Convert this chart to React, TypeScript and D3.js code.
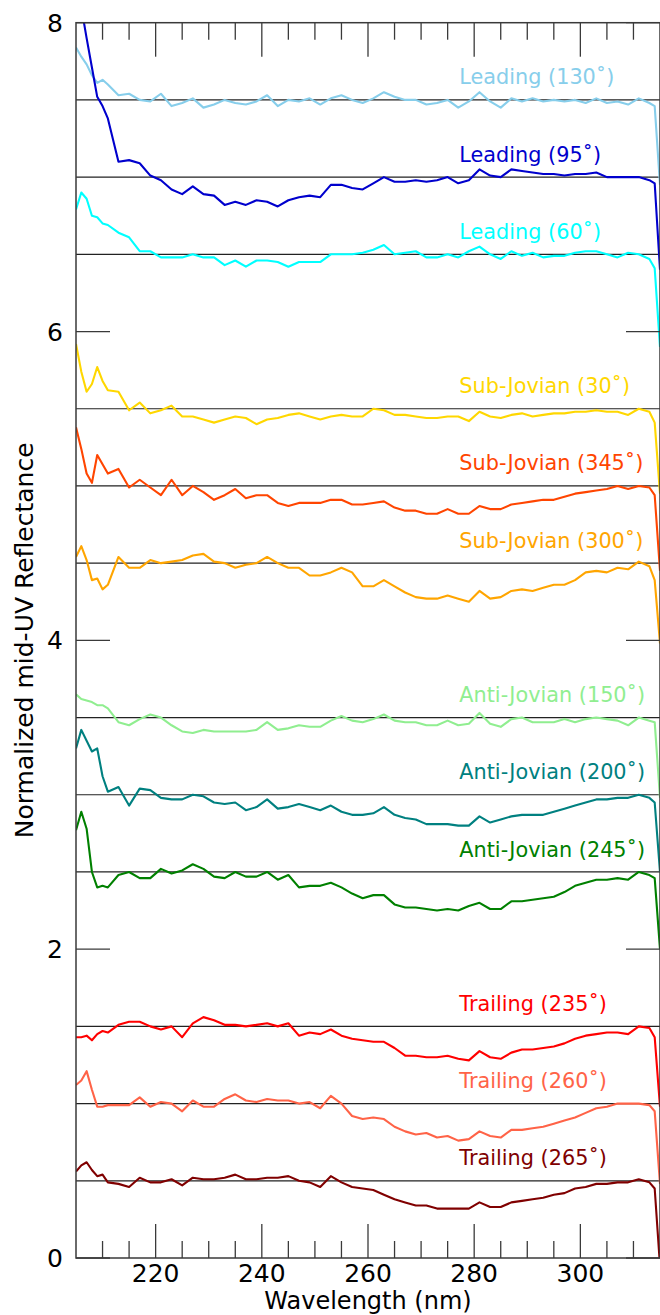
import React from 'react';
import * as d3 from 'd3';

// wavelength grid (nm) the spectra were read on
const wavelengths = [
  205, 206, 207, 208, 209, 210, 211,
  213, 215, 217, 219, 221, 223, 225, 227, 229, 231,
  233, 235, 237, 239, 241, 243, 245, 247, 249, 251,
  253, 255, 257, 259, 261, 263, 265, 267, 269, 271,
  273, 275, 277, 279, 281, 283, 285, 287, 289, 291,
  293, 295, 297, 299, 301, 303, 305, 307, 309, 311,
  313, 314, 315,
];

const leading130 = [
  7.84, 7.78, 7.73, 7.66, 7.61, 7.63, 7.60,
  7.53, 7.54, 7.50, 7.49, 7.54, 7.46, 7.48, 7.51, 7.45, 7.47,
  7.50, 7.48, 7.47, 7.49, 7.53, 7.46, 7.50, 7.49, 7.51, 7.47,
  7.51, 7.53, 7.50, 7.48, 7.51, 7.55, 7.52, 7.50, 7.50, 7.47,
  7.48, 7.50, 7.45, 7.49, 7.55, 7.49, 7.45, 7.51, 7.49, 7.51,
  7.49, 7.50, 7.49, 7.50, 7.48, 7.51, 7.48, 7.49, 7.47, 7.51,
  7.48, 7.46, 6.95,
];
const leading95 = [
  8.30, 8.10, 7.90, 7.71, 7.52, 7.46, 7.38,
  7.10, 7.11, 7.09, 7.01, 6.98, 6.92, 6.89, 6.94, 6.89, 6.88,
  6.82, 6.84, 6.82, 6.85, 6.84, 6.81, 6.85, 6.87, 6.88, 6.87,
  6.95, 6.95, 6.93, 6.92, 6.96, 7.00, 6.97, 6.97, 6.98, 6.97,
  6.98, 7.00, 6.96, 6.98, 7.05, 7.01, 7.00, 7.05, 7.04, 7.03,
  7.02, 7.02, 7.01, 7.02, 7.02, 7.03, 7.00, 7.00, 7.00, 7.00,
  6.98, 6.96, 6.40,
];
const leading60 = [
  6.79, 6.90, 6.86, 6.75, 6.74, 6.70, 6.69,
  6.64, 6.61, 6.52, 6.52, 6.48, 6.48, 6.48, 6.50, 6.48, 6.48,
  6.43, 6.46, 6.42, 6.46, 6.46, 6.45, 6.42, 6.45, 6.45, 6.45,
  6.50, 6.50, 6.50, 6.51, 6.53, 6.56, 6.50, 6.51, 6.52, 6.48,
  6.48, 6.50, 6.48, 6.52, 6.55, 6.50, 6.47, 6.52, 6.49, 6.51,
  6.48, 6.49, 6.49, 6.51, 6.52, 6.52, 6.50, 6.48, 6.51, 6.50,
  6.47, 6.41, 5.90,
];
const subJovian30 = [
  5.92, 5.74, 5.61, 5.66, 5.77, 5.68, 5.62,
  5.61, 5.49, 5.54, 5.47, 5.49, 5.52, 5.45, 5.45, 5.43, 5.41,
  5.43, 5.45, 5.44, 5.40, 5.43, 5.44, 5.46, 5.47, 5.45, 5.43,
  5.45, 5.46, 5.45, 5.45, 5.50, 5.49, 5.46, 5.46, 5.45, 5.44,
  5.44, 5.45, 5.45, 5.42, 5.48, 5.45, 5.44, 5.46, 5.47, 5.45,
  5.46, 5.47, 5.47, 5.48, 5.48, 5.49, 5.48, 5.48, 5.46, 5.50,
  5.48, 5.41, 4.95,
];
const subJovian345 = [
  5.38, 5.24, 5.08, 5.02, 5.20, 5.14, 5.08,
  5.11, 4.99, 5.04, 4.99, 4.94, 5.04, 4.94, 5.00, 4.96, 4.91,
  4.94, 4.98, 4.92, 4.94, 4.94, 4.89, 4.87, 4.89, 4.89, 4.89,
  4.91, 4.91, 4.88, 4.88, 4.89, 4.90, 4.86, 4.84, 4.84, 4.82,
  4.82, 4.85, 4.82, 4.82, 4.87, 4.85, 4.85, 4.88, 4.89, 4.90,
  4.91, 4.91, 4.93, 4.95, 4.96, 4.97, 4.98, 5.00, 4.98, 5.00,
  4.99, 4.94, 4.45,
];
const subJovian300 = [
  4.54, 4.61, 4.52, 4.39, 4.40, 4.33, 4.36,
  4.54, 4.47, 4.47, 4.52, 4.50, 4.51, 4.52, 4.55, 4.56, 4.51,
  4.50, 4.47, 4.49, 4.50, 4.54, 4.50, 4.47, 4.47, 4.42, 4.42,
  4.44, 4.47, 4.44, 4.35, 4.35, 4.39, 4.35, 4.31, 4.28, 4.27,
  4.27, 4.29, 4.27, 4.25, 4.32, 4.27, 4.28, 4.32, 4.33, 4.32,
  4.34, 4.36, 4.36, 4.39, 4.44, 4.45, 4.44, 4.47, 4.46, 4.51,
  4.48, 4.39, 3.98,
];
const antiJovian150 = [
  3.65, 3.62, 3.61, 3.60, 3.58, 3.58, 3.56,
  3.47, 3.45, 3.49, 3.52, 3.50, 3.45, 3.41, 3.40, 3.42, 3.41,
  3.41, 3.41, 3.41, 3.42, 3.47, 3.42, 3.43, 3.45, 3.44, 3.44,
  3.48, 3.51, 3.48, 3.47, 3.49, 3.52, 3.48, 3.47, 3.47, 3.45,
  3.45, 3.48, 3.45, 3.46, 3.53, 3.46, 3.44, 3.49, 3.50, 3.47,
  3.47, 3.47, 3.49, 3.47, 3.49, 3.50, 3.49, 3.48, 3.45, 3.50,
  3.48, 3.47, 2.98,
];
const antiJovian200 = [
  3.30, 3.42, 3.35, 3.28, 3.30, 3.12, 3.02,
  3.05, 2.93, 3.04, 3.03, 2.98, 2.97, 2.97, 3.00, 2.99, 2.95,
  2.94, 2.95, 2.90, 2.92, 2.97, 2.91, 2.92, 2.94, 2.92, 2.90,
  2.93, 2.89, 2.87, 2.87, 2.88, 2.92, 2.87, 2.85, 2.84, 2.81,
  2.81, 2.81, 2.80, 2.80, 2.86, 2.82, 2.84, 2.86, 2.87, 2.87,
  2.87, 2.89, 2.91, 2.93, 2.95, 2.97, 2.97, 2.98, 2.98, 3.00,
  2.98, 2.95, 2.50,
];
const antiJovian245 = [
  2.77, 2.89, 2.78, 2.50, 2.40, 2.41, 2.40,
  2.48, 2.50, 2.46, 2.46, 2.52, 2.49, 2.51, 2.55, 2.52, 2.47,
  2.46, 2.50, 2.47, 2.47, 2.50, 2.45, 2.48, 2.40, 2.41, 2.41,
  2.43, 2.40, 2.36, 2.33, 2.35, 2.35, 2.29, 2.27, 2.27, 2.26,
  2.25, 2.26, 2.25, 2.28, 2.30, 2.26, 2.26, 2.31, 2.31, 2.32,
  2.33, 2.34, 2.37, 2.41, 2.43, 2.45, 2.45, 2.46, 2.45, 2.50,
  2.48, 2.46, 2.00,
];
const trailing235 = [
  1.43, 1.43, 1.44, 1.41, 1.45, 1.47, 1.46,
  1.51, 1.53, 1.53, 1.50, 1.48, 1.50, 1.43, 1.52, 1.56, 1.54,
  1.51, 1.51, 1.50, 1.51, 1.52, 1.50, 1.52, 1.44, 1.46, 1.45,
  1.48, 1.44, 1.42, 1.41, 1.40, 1.40, 1.36, 1.31, 1.31, 1.30,
  1.30, 1.31, 1.29, 1.28, 1.34, 1.30, 1.29, 1.33, 1.35, 1.35,
  1.36, 1.37, 1.39, 1.42, 1.44, 1.45, 1.46, 1.46, 1.45, 1.50,
  1.49, 1.43, 0.98,
];
const trailing260 = [
  1.12, 1.15, 1.21, 1.09, 0.98, 0.98, 0.99,
  0.99, 0.99, 1.04, 0.98, 1.01, 1.00, 0.95, 1.02, 0.98, 0.98,
  1.03, 1.06, 1.02, 1.01, 1.03, 1.02, 1.02, 1.00, 1.01, 0.97,
  1.05, 1.00, 0.92, 0.90, 0.91, 0.90, 0.85, 0.82, 0.80, 0.81,
  0.78, 0.79, 0.76, 0.77, 0.82, 0.79, 0.78, 0.83, 0.83, 0.84,
  0.85, 0.87, 0.89, 0.91, 0.94, 0.97, 0.98, 1.00, 1.00, 1.00,
  0.99, 0.95, 0.48,
];
const trailing265 = [
  0.56, 0.60, 0.62, 0.57, 0.53, 0.54, 0.49,
  0.48, 0.46, 0.52, 0.49, 0.49, 0.51, 0.47, 0.52, 0.51, 0.51,
  0.52, 0.54, 0.51, 0.51, 0.52, 0.52, 0.53, 0.50, 0.49, 0.46,
  0.53, 0.49, 0.46, 0.45, 0.44, 0.41, 0.38, 0.36, 0.34, 0.34,
  0.32, 0.32, 0.32, 0.32, 0.36, 0.33, 0.33, 0.36, 0.37, 0.38,
  0.39, 0.41, 0.42, 0.45, 0.46, 0.48, 0.48, 0.49, 0.49, 0.51,
  0.49, 0.45, -0.05,
];

const seriesLabels = [
  'Leading (130˚)', 'Leading (95˚)', 'Leading (60˚)',
  'Sub-Jovian (30˚)', 'Sub-Jovian (345˚)', 'Sub-Jovian (300˚)',
  'Anti-Jovian (150˚)', 'Anti-Jovian (200˚)', 'Anti-Jovian (245˚)',
  'Trailing (235˚)', 'Trailing (260˚)', 'Trailing (265˚)',
];
const offsets = [7.5, 7, 6.5, 5.5, 5, 4.5, 3.5, 3, 2.5, 1.5, 1, 0.5];
const seriesValues = [
  leading130, leading95, leading60,
  subJovian30, subJovian345, subJovian300,
  antiJovian150, antiJovian200, antiJovian245,
  trailing235, trailing260, trailing265,
];

const xMajorTicks = [220, 240, 260, 280, 300];
const xMinorTicks = [210, 215, 225, 230, 235, 245, 250, 255, 265, 270, 275, 285, 290, 295, 305, 310];
const yTicks = [0, 2, 4, 6, 8];
const labelWavelength = 277.2;

const colors = [
  '#87ceeb', '#0000cd', '#00ffff',
  '#ffd700', '#ff4500', '#ffa500',
  '#90ee90', '#008080', '#008000',
  '#ff0000', '#ff6347', '#800000',
];

const width = 660;
const height = 1315;
const left = 76;
const right = 660;
const top = 22.7;
const bottom = 1258;
const font = 'DejaVu Sans, sans-serif';

export default function App() {
  const x = d3.scaleLinear([205, 315], [left, right]);
  const y = d3.scaleLinear([0, 8], [bottom, top]);
  const line = d3.line<number>()
    .x((_, i) => x(wavelengths[i]))
    .y((d) => y(d));

  const axisColor = '#3a3a3a';

  return (
    <svg
      width={width}
      height={height}
      style={{ position: 'absolute', left: 0, top: 0, background: '#fff' }}
      fontFamily={font}
    >
      <defs>
        <clipPath id="plot-clip">
          <rect x={left} y={top} width={right - left} height={bottom - top} />
        </clipPath>
      </defs>

      {/* reference levels */}
      <g stroke="#222" strokeWidth={1.2}>
        {offsets.map((o) => (
          <line key={o} x1={left} x2={right} y1={y(o)} y2={y(o)} />
        ))}
      </g>

      {/* spectra */}
      <g clipPath="url(#plot-clip)" fill="none" strokeWidth={2.1} strokeLinejoin="round">
        {seriesValues.map((vals, i) => (
          <path key={seriesLabels[i]} d={line(vals) ?? ''} stroke={colors[i]} />
        ))}
      </g>

      {/* series labels */}
      <g fontSize={20.8}>
        {seriesLabels.map((s, i) => (
          <text key={s} x={x(labelWavelength)} y={y(offsets[i] + 0.1)} fill={colors[i]}>
            {s}
          </text>
        ))}
      </g>

      {/* ticks, pointing inward on all four sides */}
      <g stroke={axisColor} strokeWidth={1.3}>
        {xMajorTicks.map((t) => (
          <g key={'M' + t}>
            <line x1={x(t)} x2={x(t)} y1={bottom} y2={bottom - 34} />
            <line x1={x(t)} x2={x(t)} y1={top} y2={top + 34} />
          </g>
        ))}
        {xMinorTicks.map((t) => (
          <g key={'m' + t}>
            <line x1={x(t)} x2={x(t)} y1={bottom} y2={bottom - 17} />
            <line x1={x(t)} x2={x(t)} y1={top} y2={top + 17} />
          </g>
        ))}
        {yTicks.map((t) => (
          <g key={'y' + t}>
            <line x1={left} x2={left + 34} y1={y(t)} y2={y(t)} />
            <line x1={right} x2={right - 34} y1={y(t)} y2={y(t)} />
          </g>
        ))}
      </g>

      {/* frame */}
      <rect
        x={left}
        y={top}
        width={right - left}
        height={bottom - top}
        fill="none"
        stroke={axisColor}
        strokeWidth={1.5}
      />

      {/* tick labels */}
      <g fontSize={25} fill="#000">
        {xMajorTicks.map((t) => (
          <text key={t} x={x(t)} y={bottom + 24} textAnchor="middle">{t}</text>
        ))}
        {yTicks.map((t) => (
          <text key={t} x={left - 13} y={y(t)} dy="0.36em" textAnchor="end">{t}</text>
        ))}
      </g>

      {/* axis titles */}
      <text x={(left + right) / 2} y={1309} fontSize={24} textAnchor="middle">
        Wavelength (nm)
      </text>
      <text
        transform={`translate(33,${(top + bottom) / 2}) rotate(-90)`}
        fontSize={25}
        textAnchor="middle"
      >
        Normalized mid-UV Reflectance
      </text>
    </svg>
  );
}
